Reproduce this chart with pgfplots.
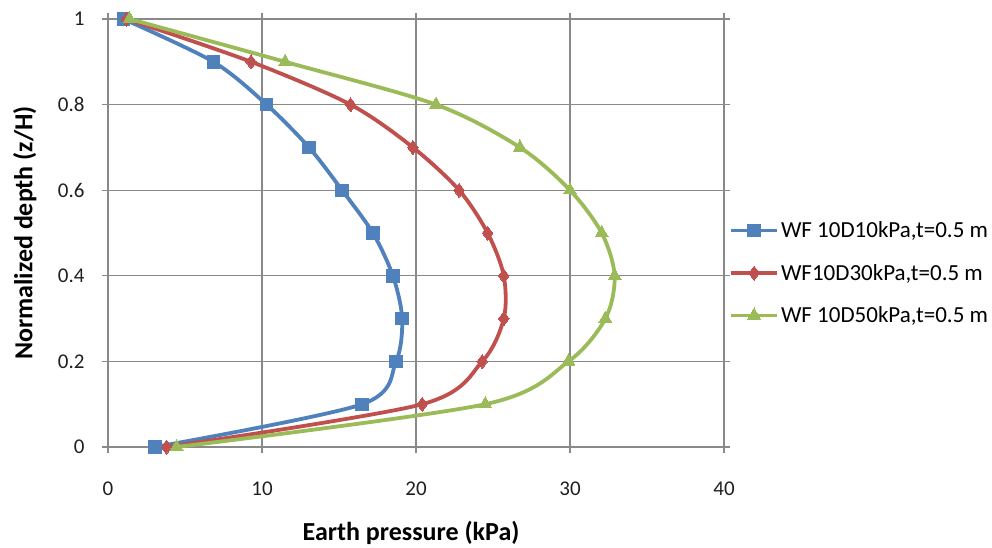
\documentclass[border=0pt]{standalone}
\usepackage{pgfplots}
\pgfplotsset{compat=1.18}
\usepackage{fontspec}
\setmainfont{Carlito}
\definecolor{sblue}{HTML}{4F81BD}
\definecolor{sred}{HTML}{C0504D}
\definecolor{sgreen}{HTML}{9BBB59}
\definecolor{gridc}{HTML}{898989}
\begin{document}
\begin{tikzpicture}
\useasboundingbox (-108pt,-100pt) rectangle (884pt,19pt+428pt);
\begin{axis}[
  at={(0,0)}, anchor=south west,
  scale only axis, width=616pt, height=428pt,
  xmin=0, xmax=40, ymin=0, ymax=1,
  xtick={0,10,20,30,40},
  ytick={0,0.2,0.4,0.6,0.8,1},
  yticklabels={0,0.2,0.4,0.6,0.8,1},
  /pgf/number format/assume math mode=true,
  grid=major,
  major grid style={gridc, line width=1.2pt},
  axis line style={gridc, line width=1.2pt},
  tick style={gridc, line width=1.2pt},
  tick align=outside, major tick length=6pt,
  ticklabel style={font=\fontsize{21}{24}\selectfont, text=black!88},
  xticklabel style={anchor=center, yshift=-36pt},
  yticklabel style={anchor=east, xshift=-14pt},
  xlabel={\textbf{Earth pressure (kPa)}},
  ylabel={\textbf{Normalized depth (z/H)}},
  label style={font=\fontsize{26}{30}\selectfont},
  xlabel style={at={(axis description cs:0.492,-0.201)}, anchor=center},
  ylabel style={at={(axis description cs:-0.135,0.5)}, anchor=center, rotate=0},
  legend style={at={(1,0.5)}, anchor=west, xshift=2pt, yshift=-40pt, draw=none, fill=none,
    font=\fontsize{23}{26}\selectfont, row sep=21pt},
  legend cell align=left,
  legend image code/.code={
    \draw[#1, mark=none] (0pt,0pt) -- (46pt,0pt);
    \draw[#1, only marks] plot coordinates {(23pt,0pt)};
  },
  every axis plot/.append style={line width=3.8pt, smooth, tension=0.5},
]
\addplot[sblue, mark=square*, mark size=6.2pt, mark options={solid, line width=0pt}] coordinates {
(1.0,1) (6.84,0.9) (10.3,0.8) (13.05,0.7) (15.2,0.6) (17.2,0.5) (18.5,0.4) (19.1,0.3) (18.7,0.2) (16.5,0.1) (3.05,0)
};
\addlegendentry{WF 10D10kPa,t=0.5 m}
\addplot[sred, mark=diamond*, mark size=7pt, mark options={solid, line width=0pt}] coordinates {
(1.2,1) (9.29,0.9) (15.75,0.8) (19.8,0.7) (22.8,0.6) (24.65,0.5) (25.7,0.4) (25.7,0.3) (24.3,0.2) (20.4,0.1) (3.8,0)
};
\addlegendentry{WF10D30kPa,t=0.5 m}
\addplot[sgreen, mark=triangle*, mark size=7.5pt, mark options={solid, line width=0pt}] coordinates {
(1.4,1) (11.5,0.9) (21.3,0.8) (26.75,0.7) (30.0,0.6) (32.06,0.5) (32.9,0.4) (32.3,0.3) (29.9,0.2) (24.5,0.1) (4.45,0)
};
\addlegendentry{WF 10D50kPa,t=0.5 m}
\end{axis}
\end{tikzpicture}
\end{document}
